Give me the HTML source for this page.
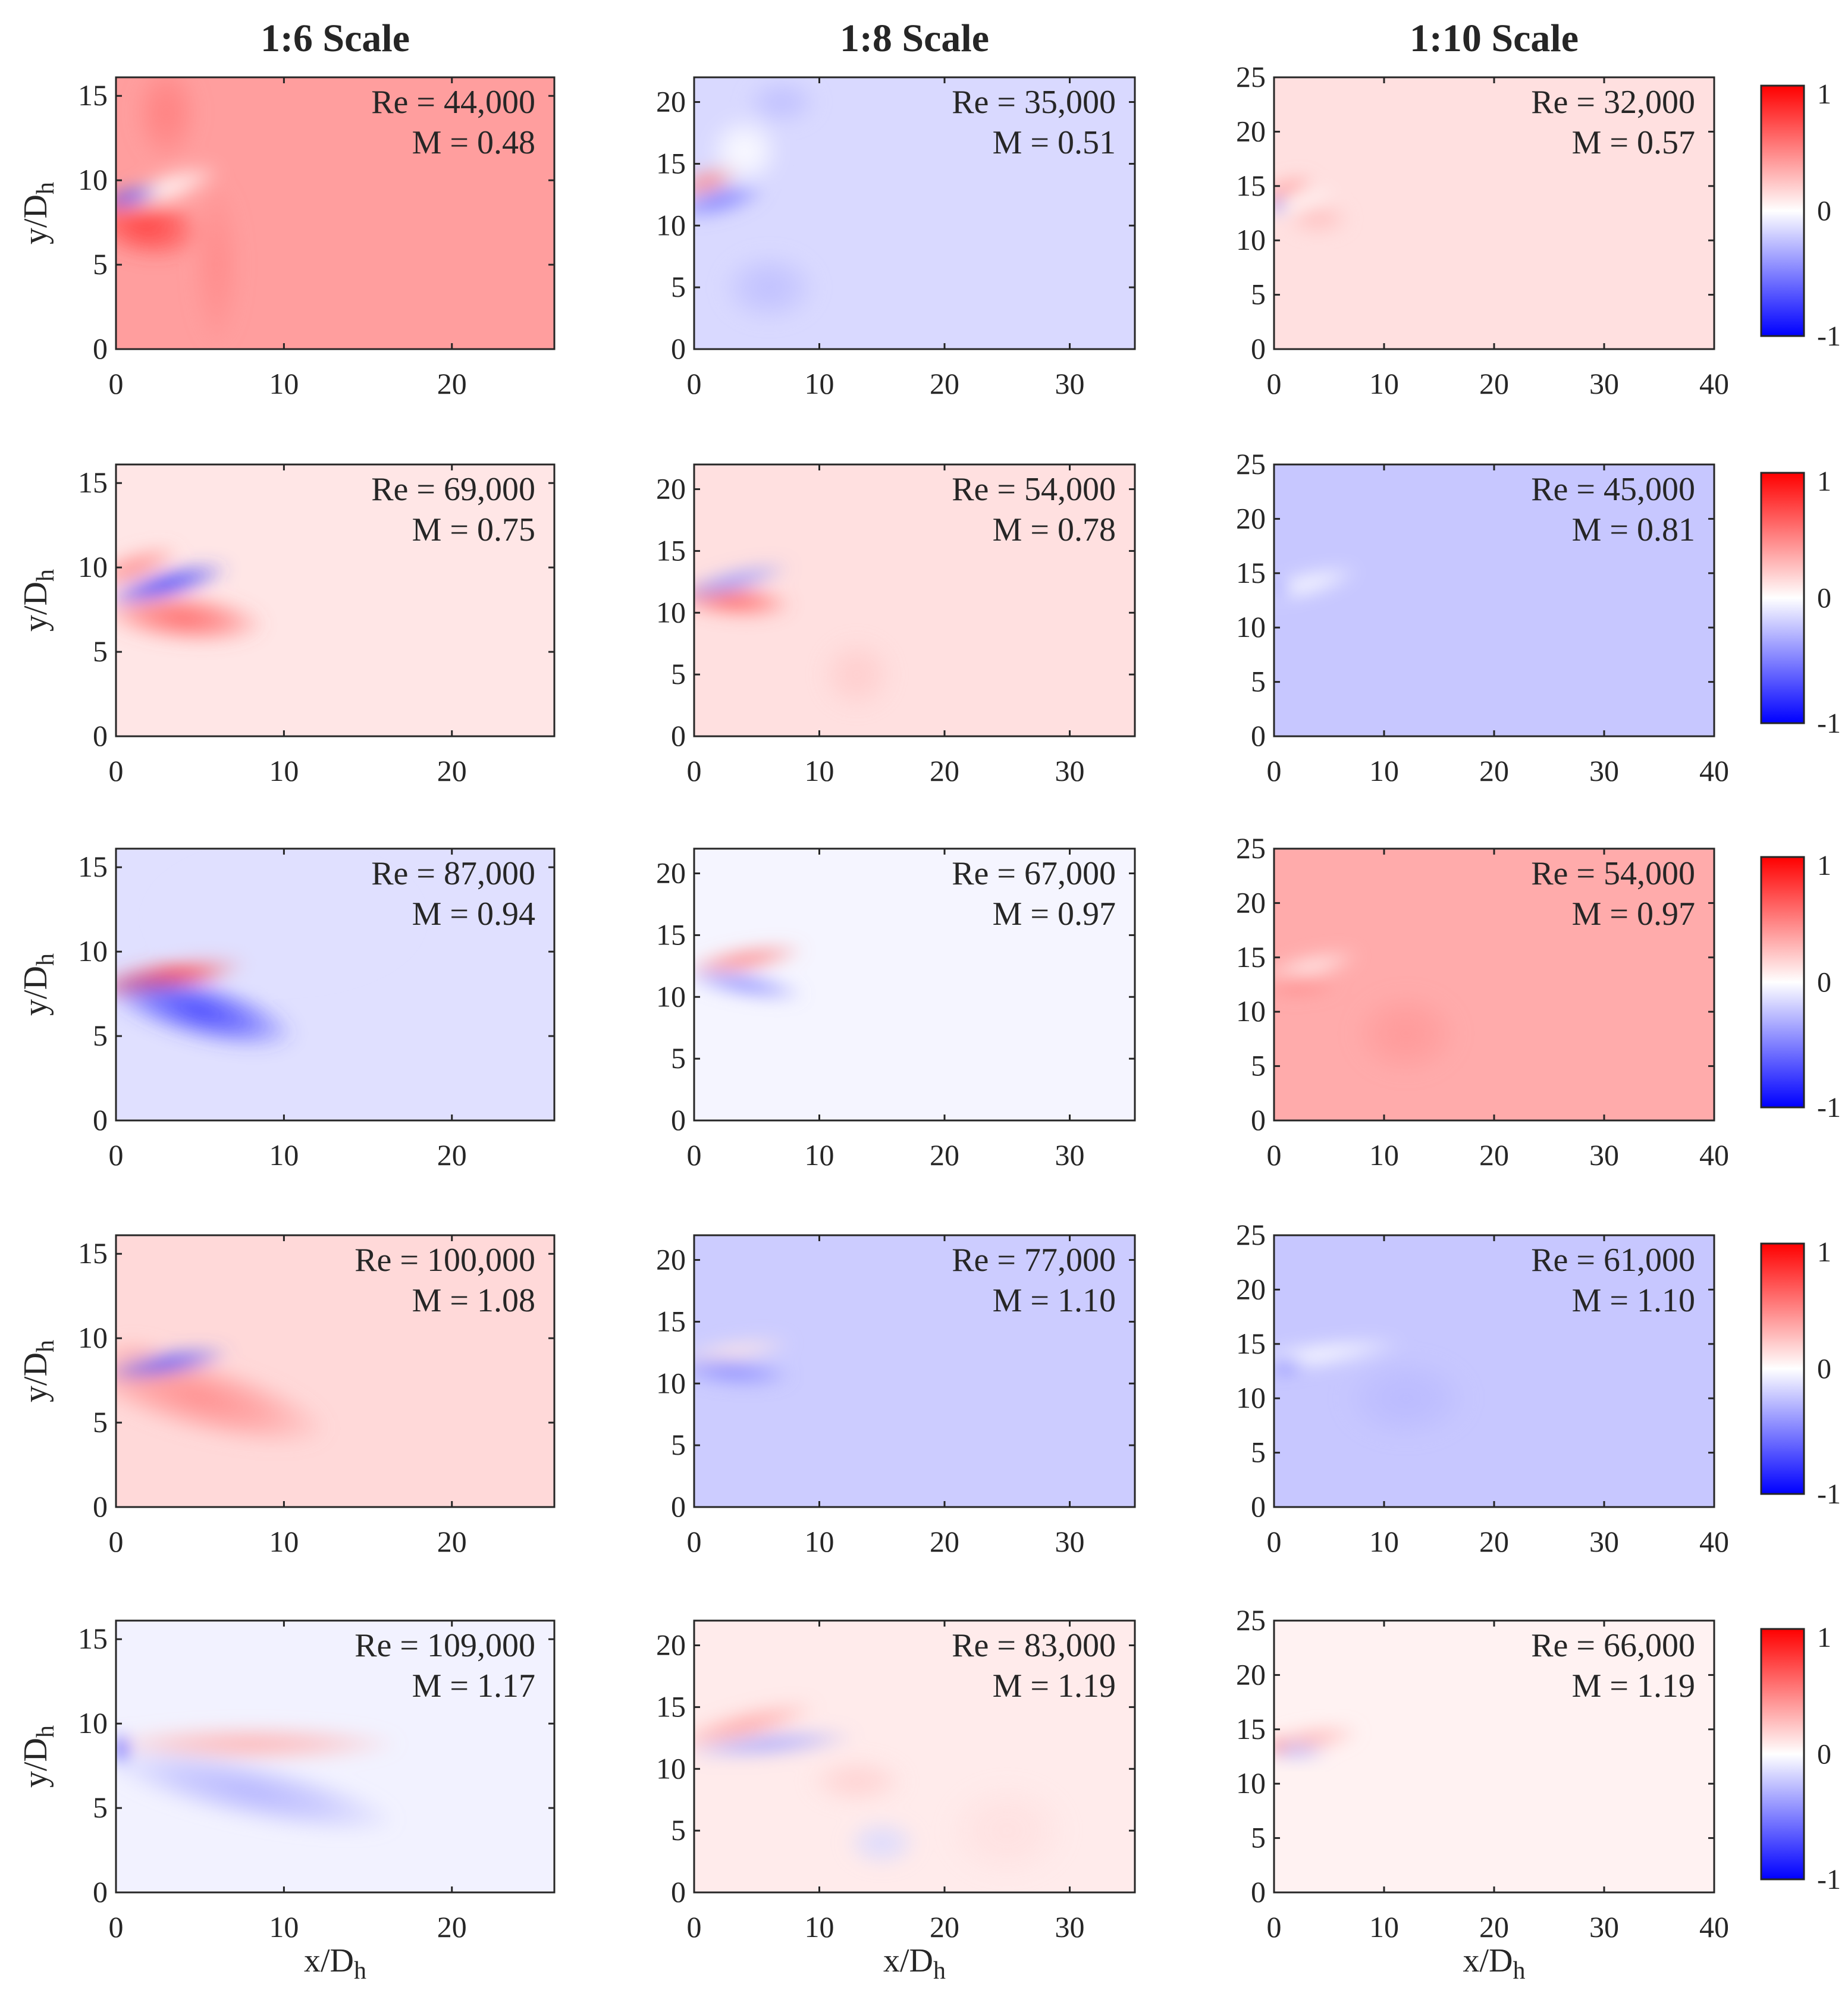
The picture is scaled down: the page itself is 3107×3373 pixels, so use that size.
<!DOCTYPE html>
<html><head><meta charset="utf-8"><style>
html,body{margin:0;padding:0;background:#fff}
svg{display:block}
text{font-family:"Liberation Serif",serif;fill:#262626}
</style></head><body>
<svg id="fig" width="3107" height="3373" viewBox="0 0 3107 3373" xmlns="http://www.w3.org/2000/svg">
<defs id="defs">
<linearGradient id="cbar" x1="0" y1="0" x2="0" y2="1">
<stop offset="0" stop-color="#ff0000"/><stop offset="0.5" stop-color="#ffffff"/><stop offset="1" stop-color="#0000ff"/>
</linearGradient>
<filter id="soft" x="-20%" y="-20%" width="140%" height="140%"><feGaussianBlur stdDeviation="14"/></filter>
</defs>
</svg>
<script>
// ---- data ----
const colTitles = ["1:6 Scale","1:8 Scale","1:10 Scale"];
const xMax = [26.1, 35.2, 40];
const yMax = [16.1, 22, 25];
const xTicks = [[0,10,20],[0,10,20,30],[0,10,20,30,40]];
const yTicks = [[0,5,10,15],[0,5,10,15,20],[0,5,10,15,20,25]];
const reLabels = [["44,000","35,000","32,000"],["69,000","54,000","45,000"],["87,000","67,000","54,000"],["100,000","77,000","61,000"],["109,000","83,000","66,000"]];
const mLabels = [["0.48","0.51","0.57"],["0.75","0.78","0.81"],["0.94","0.97","0.97"],["1.08","1.10","1.10"],["1.17","1.19","1.19"]];
const bgValues = [[0.38,-0.15,0.12],[0.1,0.12,-0.22],[-0.12,-0.04,0.33],[0.15,-0.2,-0.22],[-0.05,0.08,0.05]];
// blobs: [x, y, rx, ry, value, angle]
const blobs = [
 [ [[1.8,7.3,3.5,2,0.75,-10],[3,9.5,3.5,1,0,20],[0.8,9,2,0.6,-0.7,15],[3,14,2,3,0.5,0],[6,5,1.5,5,0.45,0]],
   [[1,13.5,3,1.2,0.45,20],[2,12,4,1.2,-0.5,15],[6,5,4,3,-0.25,0],[7,20,3,2,-0.25,0],[4,16,3,3,0,0]],
   [[1,14.5,3,1.2,0.4,20],[2,13.5,4,1,0,15],[0.3,13.2,0.8,0.8,-0.6,0],[4,12,3,1.5,0.25,0]] ],
 [ [[4,7,5,1.5,0.6,-5],[3,9,4,0.9,-0.75,15],[1,10,3,0.9,0.45,20]],
   [[3,11,5,1.4,0.6,-5],[3,12.5,5,1,-0.4,15],[13,5,3,3,0.2,0]],
   [[3,14,5,1.2,0,15],[0.5,13.5,1,0.8,-0.5,0]] ],
 [ [[3,8.5,5,1,0.75,10],[5,6.5,6,1.8,-0.75,-15],[10,12,8,4,-0.12,0]],
   [[4,13,5,1,0.5,10],[4,11,5,1,-0.45,-10]],
   [[3,14,5,1.2,0.05,15],[2,12.5,4,1.2,0.45,0],[12,8,5,4,0.4,0]] ],
 [ [[5,6.5,8,2.2,0.45,-15],[3,8.5,4,0.8,-0.65,10],[1,9.2,2,0.6,0.3,0]],
   [[3,12.5,5,1.1,0.1,10],[3,11,5,1.2,-0.45,-5]],
   [[4,14,8,1.2,0,8],[1,13,2,0.7,-0.6,0],[12,10,6,4,-0.27,0]] ],
 [ [[8,8.8,9,1.1,0.3,0],[8,6,9,1.8,-0.3,-12],[0.3,8.5,0.6,1,-0.8,0]],
   [[4,13.5,6,1.2,0.35,15],[6,12,7,1,-0.35,5],[13,9,4,2,0.18,0],[15,4,3,2,-0.15,0],[25,5,5,4,0.12,0]],
   [[3,14,5,1.2,0.3,10],[2,13,3,0.8,-0.3,0],[0.4,13.5,0.6,1,0.6,0]] ]
];
// ---- layout ----
const colL=[195,1167,2142], colR=[932,1908,2882];
const rowB=[587,1238,1884,2534,3182], ph=457;
const NS="http://www.w3.org/2000/svg";
const svg=document.getElementById('fig'), defs=document.getElementById('defs');
function el(t,a,p){const e=document.createElementNS(NS,t);for(const k in a)e.setAttribute(k,a[k]);(p||svg).appendChild(e);return e;}
function cmap(v){v=Math.max(-1,Math.min(1,v));let r,g,b;
 if(v>=0){r=255;g=Math.round(255*(1-v));b=g;}else{b=255;r=Math.round(255*(1+v));g=r;}
 return `rgb(${r},${g},${b})`;}
let gid=0;
colTitles.forEach((t,c)=>{
 const e=el('text',{x:(colL[c]+colR[c])/2,y:86,'text-anchor':'middle','font-size':66,'font-weight':'bold'});
 e.textContent=t;
 
 
});
for(let r=0;r<5;r++){
 for(let c=0;c<3;c++){
  const L=colL[c],R=colR[c],B=rowB[r],T=B-ph,W=R-L;
  const sx=W/xMax[c], sy=ph/yMax[c];
  const X=v=>L+v*sx, Y=v=>B-v*sy;
  const g=el('g',{});
  
  
  const cid='clip'+r+c;
  const cp=el('clipPath',{id:cid},defs);el('rect',{x:L,y:T,width:W,height:ph},cp);
  const hm=el('g',{'clip-path':`url(#${cid})`},g);
  const bg=el('rect',{x:L,y:T,width:W,height:ph,fill:cmap(bgValues[r][c])},hm);
  
  
  const fg=el('g',{filter:'url(#soft)'},hm);
  blobs[r][c].forEach(b=>{
   const id='bg'+(gid++);
   const rg=el('radialGradient',{id:id},defs);
   el('stop',{offset:0,'stop-color':cmap(b[4]),'stop-opacity':0.95},rg);
   el('stop',{offset:0.5,'stop-color':cmap(b[4]),'stop-opacity':0.6},rg);
   el('stop',{offset:1,'stop-color':cmap(b[4]),'stop-opacity':0},rg);
   const e=el('ellipse',{cx:X(b[0]),cy:Y(b[1]),rx:b[2]*sx,ry:b[3]*sy,fill:`url(#${id})`,transform:`rotate(${-b[5]} ${X(b[0])} ${Y(b[1])})`},fg);
   
   
  });
  el('rect',{x:L,y:T,width:W,height:ph,fill:'none',stroke:'#262626','stroke-width':3},g);
  xTicks[c].forEach(v=>{
   el('line',{x1:X(v),x2:X(v),y1:B,y2:B-10,stroke:'#262626','stroke-width':3},g);
   el('line',{x1:X(v),x2:X(v),y1:T,y2:T+10,stroke:'#262626','stroke-width':3},g);
   const t=el('text',{x:X(v),y:B+75,'text-anchor':'middle','font-size':50},g);t.textContent=v;
   
   
  });
  yTicks[c].forEach(v=>{
   el('line',{x1:L,x2:L+10,y1:Y(v),y2:Y(v),stroke:'#262626','stroke-width':3},g);
   el('line',{x1:R,x2:R-10,y1:Y(v),y2:Y(v),stroke:'#262626','stroke-width':3},g);
   const t=el('text',{x:L-14,y:Y(v)+16,'text-anchor':'end','font-size':50},g);t.textContent=v;
   
   
  });
  const t1=el('text',{x:R-32,y:T+60,'text-anchor':'end','font-size':56},g);t1.textContent='Re = '+reLabels[r][c];
  
  
  const t2=el('text',{x:R-32,y:T+128,'text-anchor':'end','font-size':56},g);t2.textContent='M = '+mLabels[r][c];
  
  
  if(c==0){
   const yl=el('text',{x:0,y:0,'text-anchor':'middle','font-size':56,transform:`translate(78 ${(T+B)/2}) rotate(-90)`},g);
   yl.innerHTML='y/D<tspan dy="12" font-size="42">h</tspan>';
   
   
  }
  if(r==4){
   const xl=el('text',{x:(L+R)/2,y:B+133,'text-anchor':'middle','font-size':56},g);
   xl.innerHTML='x/D<tspan dy="12" font-size="42">h</tspan>';
   
   
  }
 }
 const cT=rowB[r]-ph+14, cB=rowB[r]-22;
 const cg=el('g',{});
 
 
 el('rect',{x:2961,y:cT,width:72,height:cB-cT,fill:'url(#cbar)',stroke:'#262626','stroke-width':3},cg);
 [[1,cT+30],[0,(cT+cB)/2+16],[-1,cB+16]].forEach(p=>{
  const t=el('text',{x:3055,y:p[1],'font-size':48},cg);t.textContent=p[0];
 });
}
</script>
</body></html>
